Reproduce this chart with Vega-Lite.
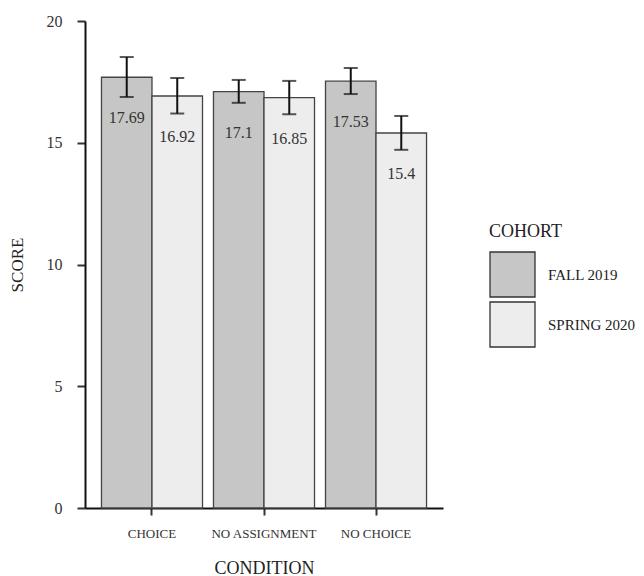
{
  "$schema": "https://vega.github.io/schema/vega-lite/v6.json",
  "autosize": "none",
  "padding": {"left": 85, "top": 21, "right": 201, "bottom": 68},
  "width": 358,
  "height": 487,
  "background": "white",
  "config": {
    "font": "Liberation Serif, Times New Roman, serif",
    "text": {"font": "Liberation Serif, Times New Roman, serif"},
    "view": {"stroke": null},
    "axis": {"grid": false, "domainColor": "#111", "domainWidth": 2, "tickColor": "#333", "tickWidth": 2, "labelColor": "#333", "titleColor": "#222", "titleFontWeight": "normal", "labelFont": "Liberation Serif, Times New Roman, serif", "titleFont": "Liberation Serif, Times New Roman, serif"},
    "legend": {"labelFont": "Liberation Serif, Times New Roman, serif", "titleFont": "Liberation Serif, Times New Roman, serif"}
  },
  "data": {"values": [
    {"condition": "CHOICE", "cohort": "FALL 2019", "score": 17.69, "lo": 16.88, "hi": 18.52, "label": "17.69"},
    {"condition": "CHOICE", "cohort": "SPRING 2020", "score": 16.92, "lo": 16.2, "hi": 17.66, "label": "16.92"},
    {"condition": "NO ASSIGNMENT", "cohort": "FALL 2019", "score": 17.1, "lo": 16.64, "hi": 17.58, "label": "17.1"},
    {"condition": "NO ASSIGNMENT", "cohort": "SPRING 2020", "score": 16.85, "lo": 16.17, "hi": 17.54, "label": "16.85"},
    {"condition": "NO CHOICE", "cohort": "FALL 2019", "score": 17.53, "lo": 17.0, "hi": 18.07, "label": "17.53"},
    {"condition": "NO CHOICE", "cohort": "SPRING 2020", "score": 15.4, "lo": 14.71, "hi": 16.1, "label": "15.4"}
  ]},
  "encoding": {
    "x": {"field": "condition", "type": "nominal", "sort": null,
      "scale": {"paddingInner": 0.098, "paddingOuter": 0.147},
      "axis": {"title": "CONDITION", "labelAngle": 0, "labelFontSize": 13, "labelPadding": 12, "tickSize": 7, "titleFontSize": 18, "titlePadding": 19}},
    "xOffset": {"field": "cohort", "type": "nominal", "scale": {"paddingInner": 0, "paddingOuter": 0}}
  },
  "layer": [
    {
      "mark": {"type": "bar", "stroke": "#444", "strokeWidth": 1.3},
      "encoding": {
        "y": {"field": "score", "type": "quantitative",
          "scale": {"domain": [0, 20], "nice": false},
          "axis": {"title": "SCORE", "values": [0, 5, 10, 15, 20], "labelFontSize": 16, "labelPadding": 15, "tickSize": 8, "titleFontSize": 17, "titlePadding": 20}},
        "fill": {"field": "cohort", "type": "nominal",
          "scale": {"domain": ["FALL 2019", "SPRING 2020"], "range": ["#c5c6c5", "#ededed"]},
          "legend": {"title": "COHORT", "orient": "none", "legendX": 404, "legendY": 202, "titleFontSize": 18, "titleFontWeight": "normal", "titleColor": "#222", "titlePadding": 10, "labelFontSize": 15, "labelColor": "#222", "labelOffset": 12, "symbolType": "square", "symbolSize": 2025, "symbolStrokeColor": "#333", "symbolStrokeWidth": 1.3, "rowPadding": -1, "symbolOpacity": 1}}
      }
    },
    {
      "mark": {"type": "rule", "color": "#111", "strokeWidth": 2},
      "encoding": {"y": {"field": "lo", "type": "quantitative"}, "y2": {"field": "hi"}}
    },
    {
      "mark": {"type": "tick", "color": "#111", "size": 14, "thickness": 2},
      "encoding": {"y": {"field": "lo", "type": "quantitative"}}
    },
    {
      "mark": {"type": "tick", "color": "#111", "size": 14, "thickness": 2},
      "encoding": {"y": {"field": "hi", "type": "quantitative"}}
    },
    {
      "mark": {"type": "text", "fontSize": 16, "color": "#333", "baseline": "middle", "dy": 41, "font": "Liberation Serif, Times New Roman, serif"},
      "encoding": {"y": {"field": "score", "type": "quantitative"}, "text": {"field": "label"}}
    }
  ]
}
